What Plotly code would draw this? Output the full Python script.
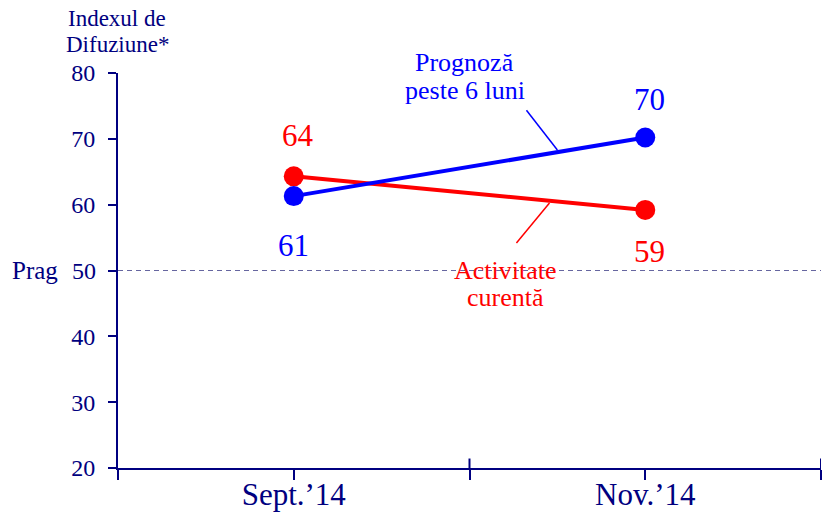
import plotly.graph_objects as go

categories = ["Sept.’14", "Nov.’14"]
current_activity = [64.3, 59.2]
forecast_6m = [61.3, 70.2]
current_labels = ["64", "59"]
forecast_labels = ["61", "70"]
threshold = 50
threshold_label = "Prag"
y_ticks = [20, 30, 40, 50, 60, 70, 80]

NAVY = "#000080"
BLUE = "#0000FF"
RED = "#FF0000"
FONT = "Liberation Serif"

xpos = [2 * i + 1 for i in range(len(categories))]
y_ticktext = ["" if v == threshold else str(v) for v in y_ticks]
thr_paper = (threshold - y_ticks[0]) / (y_ticks[-1] - y_ticks[0])

fig = go.Figure()
fig.add_trace(go.Scatter(x=xpos, y=current_activity, mode="lines+markers",
                         line=dict(color=RED, width=4),
                         marker=dict(color=RED, size=20), hoverinfo="skip"))
fig.add_trace(go.Scatter(x=xpos, y=forecast_6m, mode="lines+markers",
                         line=dict(color=BLUE, width=4),
                         marker=dict(color=BLUE, size=20), hoverinfo="skip"))

shapes = []
# threshold dashed line
shapes.append(dict(type="line", xref="x", yref="y", x0=0, x1=4, y0=threshold, y1=threshold,
                   line=dict(color="#6666a0", width=1, dash="5px,4px")))
# upper parts of crossing ticks on x axis
for xv in [2, 4]:
    shapes.append(dict(type="line", xref="x", yref="paper", x0=xv, x1=xv, y0=0, y1=0.024,
                       line=dict(color=NAVY, width=2)))
# small extension of x axis to the left of the y axis
shapes.append(dict(type="line", xref="paper", yref="paper", x0=-0.012, x1=0, y0=0, y1=0,
                   line=dict(color=NAVY, width=2)))
# leader lines
shapes.append(dict(type="line", xref="x", yref="y", x0=2.324, y0=74.35, x1=2.5, y1=68.3,
                   line=dict(color=BLUE, width=1.5)))
shapes.append(dict(type="line", xref="x", yref="y", x0=2.455, y0=60.24, x1=2.267, y1=54.17,
                   line=dict(color=RED, width=1.5)))

annotations = []
# value labels (pixel offsets from the points)
shifts_cur = [(4, 41), (4, -42)]
shifts_fc = [(0, -49), (4, 38)]
for i in range(len(categories)):
    annotations.append(dict(x=xpos[i], y=current_activity[i], text=current_labels[i],
                            showarrow=False, xshift=shifts_cur[i][0], yshift=shifts_cur[i][1],
                            font=dict(family=FONT, size=31, color=RED)))
    annotations.append(dict(x=xpos[i], y=forecast_6m[i], text=forecast_labels[i],
                            showarrow=False, xshift=shifts_fc[i][0], yshift=shifts_fc[i][1],
                            font=dict(family=FONT, size=31, color=BLUE)))

# series callouts, one annotation per line for tight line spacing
for txt, x, y in [("Prognoză", 0.4922, 1.0261), ("peste 6 luni", 0.4936, 0.9552)]:
    annotations.append(dict(x=x, y=y, xref="paper", yref="paper", text=txt, showarrow=False,
                            xanchor="center", yanchor="middle",
                            font=dict(family=FONT, size=26, color=BLUE)))
for txt, x, y in [("Activitate", 0.5519, 0.5010), ("curentă", 0.5505, 0.4310)]:
    annotations.append(dict(x=x, y=y, xref="paper", yref="paper", text=txt, showarrow=False,
                            xanchor="center", yanchor="middle",
                            font=dict(family=FONT, size=26, color=RED)))

# axis title
for txt, y in [("Indexul de", 1.1378), ("Difuziune*", 1.0721)]:
    annotations.append(dict(x=-0.0014, y=y, xref="paper", yref="paper", text=txt,
                            showarrow=False, xanchor="center", yanchor="middle",
                            font=dict(family=FONT, size=23, color=NAVY)))
# threshold label and its tick value
annotations.append(dict(xref="paper", yref="paper", x=-0.1536, y=thr_paper,
                        text=threshold_label, xanchor="left", yanchor="middle",
                        showarrow=False, font=dict(family=FONT, size=25, color=NAVY)))
annotations.append(dict(xref="paper", yref="paper", x=-0.0284, y=thr_paper,
                        text=str(threshold), xanchor="right", yanchor="middle",
                        showarrow=False, font=dict(family=FONT, size=24, color=NAVY)))

fig.update_layout(
    width=822, height=505,
    margin=dict(l=110, r=9, t=65, b=45),
    plot_bgcolor="white", paper_bgcolor="white",
    showlegend=False,
    shapes=shapes,
    annotations=annotations,
    font=dict(family=FONT, color=NAVY),
    xaxis=dict(range=[0, 4], tickvals=[0, 1, 2, 3, 4],
               ticktext=["", categories[0], "", categories[1], ""],
               showgrid=False, zeroline=False, showline=True, linecolor=NAVY, linewidth=2,
               ticks="outside", ticklen=10, tickwidth=2, tickcolor=NAVY, automargin=False,
               ticklabelstandoff=-12,
               tickfont=dict(family=FONT, size=31, color=NAVY)),
    yaxis=dict(range=[20, 80], tickvals=y_ticks, ticktext=y_ticktext,
               showgrid=False, zeroline=False,
               showline=True, linecolor=NAVY, linewidth=2,
               ticks="outside", ticklen=8, tickwidth=2, tickcolor=NAVY,
               ticklabelstandoff=8,
               tickfont=dict(family=FONT, size=24, color=NAVY)),
)

fig.write_html("out.html")
